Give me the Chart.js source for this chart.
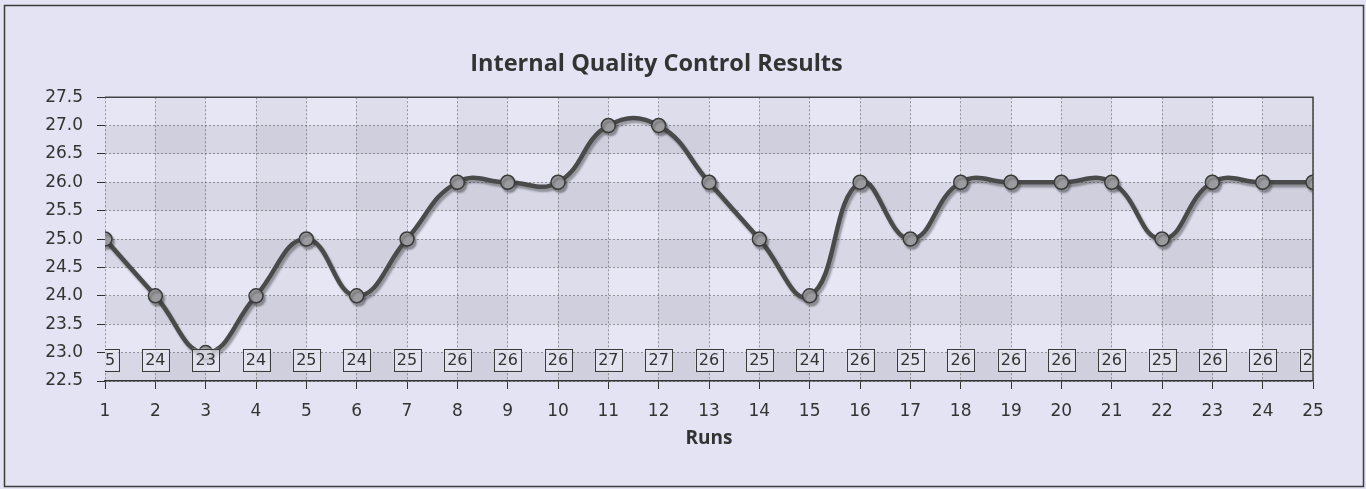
<!DOCTYPE html>
<html>
<head>
<meta charset="utf-8">
<script src="https://cdn.jsdelivr.net/npm/chart.js@4.4.0/dist/chart.umd.min.js"></script>
<style>
  html, body { margin: 0; padding: 0; background: #e3e3f3; }
  #wrap { position: absolute; left: 0; top: 0; width: 1366px; height: 489px; }
</style>
</head>
<body>
<div id="wrap"><canvas id="qc"></canvas></div>
<script>
var runs = ["1","2","3","4","5","6","7","8","9","10","11","12","13","14","15","16","17","18","19","20","21","22","23","24","25"];
var results = [25, 24, 23, 24, 25, 24, 25, 26, 26, 26, 27, 27, 26, 25, 24, 26, 25, 26, 26, 26, 26, 25, 26, 26, 26];
var yMin = 22.5;
var yMax = 27.5;
var yStep = 0.5;

var pageBg = "#e3e3f3";
var labelLevel = 22.875; // where the value boxes sit

// frame, checkered plot background, top/right border
var backdrop = {
    id: "backdrop",
    beforeDraw: function (chart) {
        var ctx = chart.ctx;
        var a = chart.chartArea;
        var x = chart.scales.x, y = chart.scales.y;
        ctx.save();
        ctx.fillStyle = pageBg;
        ctx.fillRect(0, 0, chart.width, chart.height);
        ctx.strokeStyle = "#3c3c3c";
        ctx.lineWidth = 1.5;
        ctx.strokeRect(4.5, 5.5, 1359, 481);

        ctx.fillStyle = "#e6e6f4";
        ctx.fillRect(a.left, a.top, a.right - a.left, a.bottom - a.top);
        // horizontal bands
        ctx.fillStyle = "rgba(90,90,110,0.10)";
        for (var v = yMin; v < yMax; v += 1) {
            var y1 = y.getPixelForValue(v), y2 = y.getPixelForValue(v + yStep);
            ctx.fillRect(a.left, y2, a.right - a.left, y1 - y2);
        }
        // vertical bands
        ctx.fillStyle = "rgba(90,90,110,0.06)";
        for (var i = 1; i < runs.length - 1; i += 2) {
            var x1 = x.getPixelForValue(i), x2 = x.getPixelForValue(i + 1);
            ctx.fillRect(x1, a.top, x2 - x1, a.bottom - a.top);
        }
        ctx.restore();
    },
    afterDraw: function (chart) {
        var ctx = chart.ctx;
        var a = chart.chartArea;
        ctx.save();
        ctx.strokeStyle = "#444";
        ctx.lineWidth = 1.5;
        ctx.beginPath();
        ctx.moveTo(a.left, a.top);
        ctx.lineTo(a.right, a.top);
        ctx.lineTo(a.right, a.bottom);
        ctx.stroke();
        ctx.restore();
    }
};

var lineShadow = {
    id: "lineShadow",
    beforeDatasetDraw: function (chart) {
        var ctx = chart.ctx;
        ctx.save();
        ctx.shadowColor = "rgba(60,60,60,0.45)";
        ctx.shadowOffsetX = 2;
        ctx.shadowOffsetY = 3;
        ctx.shadowBlur = 2;
    },
    afterDatasetDraw: function (chart) {
        chart.ctx.restore();
    }
};

var valueBoxes = {
    id: "valueBoxes",
    afterDatasetsDraw: function (chart) {
        var ctx = chart.ctx;
        var a = chart.chartArea;
        var meta = chart.getDatasetMeta(0);
        var yc = chart.scales.y.getPixelForValue(labelLevel);
        ctx.save();
        ctx.beginPath();
        ctx.rect(a.left, a.top, a.right - a.left, a.bottom - a.top);
        ctx.clip();
        ctx.font = "16px 'DejaVu Sans'";
        ctx.textAlign = "center";
        ctx.textBaseline = "middle";
        meta.data.forEach(function (pt, i) {
            var w = 27, h = 22;
            ctx.fillStyle = "rgba(232,232,244,0.75)";
            ctx.fillRect(pt.x - w / 2, yc - h / 2, w, h);
            ctx.strokeStyle = "#3a3a3a";
            ctx.lineWidth = 1;
            ctx.strokeRect(Math.round(pt.x - w / 2) + 0.5, Math.round(yc - h / 2) + 0.5, w, h);
            ctx.fillStyle = "#333";
            ctx.fillText(String(results[i]), pt.x, yc + 1);
        });
        ctx.restore();
    }
};

var qcChart = new Chart(document.getElementById("qc").getContext("2d"), {
    type: "line",
    data: {
        labels: runs,
        datasets: [{
            label: "Result",
            data: results,
            borderColor: "#4a4a4a",
            borderWidth: 4.5,
            tension: 0.45,
            pointRadius: 7,
            pointBackgroundColor: "#9b9b9f",
            pointBorderColor: "#3a3a3a",
            pointBorderWidth: 1.5,
            clip: 0,
            fill: false
        }]
    },
    plugins: [backdrop, lineShadow, valueBoxes],
    options: {
        responsive: true,
        maintainAspectRatio: false,
        animation: false,
        layout: { padding: { left: 0, right: 53, top: 0, bottom: 0 } },
        plugins: {
            legend: { display: false },
            tooltip: { enabled: false },
            title: {
                display: true,
                text: "Internal Quality Control Results",
                color: "#333",
                font: { family: "Open Sans", size: 23.5, weight: "bold" },
                padding: { top: 50, bottom: 19 }
            }
        },
        scales: {
            x: {
                offset: false,
                grid: { color: "rgba(80,80,80,0.55)", lineWidth: 1, tickLength: 8, tickColor: "#333" },
                border: { display: true, color: "#333", width: 1.5, dash: [2, 2] },
                ticks: { color: "#333", font: { family: "DejaVu Sans", size: 17 }, padding: 12, autoSkip: false, maxRotation: 0 },
                title: {
                    display: true,
                    text: "Runs",
                    color: "#333",
                    font: { family: "Open Sans", size: 19, weight: "bold" },
                    padding: { top: 0, bottom: 39 }
                },
                afterFit: function (s) { s.height = 108; }
            },
            y: {
                min: yMin,
                max: yMax,
                grid: { color: "rgba(80,80,80,0.55)", lineWidth: 1, tickLength: 8, tickColor: "#333" },
                border: { display: false, dash: [2, 2] },
                ticks: {
                    stepSize: yStep,
                    color: "#333",
                    font: { family: "DejaVu Sans", size: 17 },
                    padding: 14,
                    callback: function (v) { return Number(v).toFixed(1); }
                },
                afterFit: function (s) { s.width = 105; }
            }
        }
    }
});
</script>
</body>
</html>
